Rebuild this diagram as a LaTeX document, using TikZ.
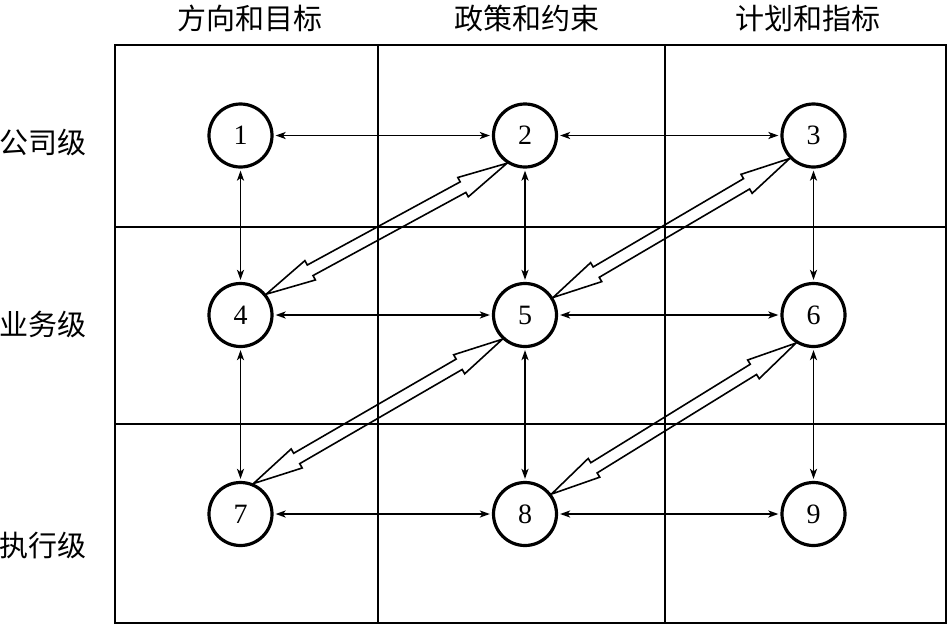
\documentclass[tikz,border=0pt]{standalone}
\usepackage{fontspec}
\setmainfont{Liberation Serif}
\newfontfamily\cjk{Noto Sans CJK SC}
\usetikzlibrary{arrows.meta,calc}
\newcommand\hollowarr[2]{%
  \draw[hollow] (#1)
    -- ($(#1)!50pt!(#2)!11pt!90:(#2)$)
    -- ($(#1)!50pt!(#2)!6pt!90:(#2)$)
    -- ($(#2)!50pt!(#1)!6pt!-90:(#1)$)
    -- ($(#2)!50pt!(#1)!11pt!-90:(#1)$)
    -- (#2)
    -- ($(#2)!50pt!(#1)!11pt!90:(#1)$)
    -- ($(#2)!50pt!(#1)!6pt!90:(#1)$)
    -- ($(#1)!50pt!(#2)!6pt!-90:(#2)$)
    -- ($(#1)!50pt!(#2)!11pt!-90:(#2)$)
    -- cycle;}
\begin{document}
\begin{tikzpicture}[x=1pt,y=-1pt,
  grid/.style={line width=1.7pt},
  num/.style={circle,draw,line width=3.2pt,minimum size=63pt,inner sep=0pt,
    font=\fontsize{28}{28}\selectfont},
  thinarr/.style={line width=1.7pt,
    {Stealth[length=10pt,width=7pt,inset=2.5pt]}-{Stealth[length=10pt,width=7pt,inset=2.5pt]},
    shorten <=2pt,shorten >=2pt},
  hollow/.style={line width=1.6pt,line join=miter},
  lab/.style={font=\cjk\fontsize{29}{29}\selectfont,inner sep=0pt}]
\useasboundingbox (0,0) rectangle (948,625);
% grid
\draw[grid] (115,45) rectangle (946,623);
\draw[grid] (378,45) -- (378,623);
\draw[grid] (665,45) -- (665,623);
\draw[grid] (115,227) -- (946,227);
\draw[grid] (115,424) -- (946,424);
% headings
\node[lab] (h1) at (250,18) {方向和目标};
\node[lab] (h2) at (527,18) {政策和约束};
\node[lab] (h3) at (808,18) {计划和指标};
\node[lab,anchor=west] (r1) at (-1,142) {公司级};
\node[lab,anchor=west] (r2) at (-1,324) {业务级};
\node[lab,anchor=west] (r3) at (-1,545) {执行级};
% nodes
\node[num] (n1) at (240.5,135.5) {1};
\node[num] (n2) at (525,135.5) {2};
\node[num] (n3) at (813.5,135.5) {3};
\node[num] (n4) at (240.5,315) {4};
\node[num] (n5) at (525,315) {5};
\node[num] (n6) at (813.5,315) {6};
\node[num] (n7) at (240.5,514) {7};
\node[num] (n8) at (525,514) {8};
\node[num] (n9) at (813.5,514) {9};
% thin arrows
\draw[thinarr] (n1) -- (n2);
\draw[thinarr] (n2) -- (n3);
\draw[thinarr] (n4) -- (n5);
\draw[thinarr] (n5) -- (n6);
\draw[thinarr] (n7) -- (n8);
\draw[thinarr] (n8) -- (n9);
\draw[thinarr] (n1) -- (n4);
\draw[thinarr] (n4) -- (n7);
\draw[thinarr] (n2) -- (n5);
\draw[thinarr] (n5) -- (n8);
\draw[thinarr] (n3) -- (n6);
\draw[thinarr] (n6) -- (n9);
% hollow arrows
\hollowarr{n4.39}{n2.237}
\hollowarr{n5.32}{n3.224}
\hollowarr{n7.67}{n5.227}
\hollowarr{n8.37}{n6.238}
\end{tikzpicture}
\end{document}
